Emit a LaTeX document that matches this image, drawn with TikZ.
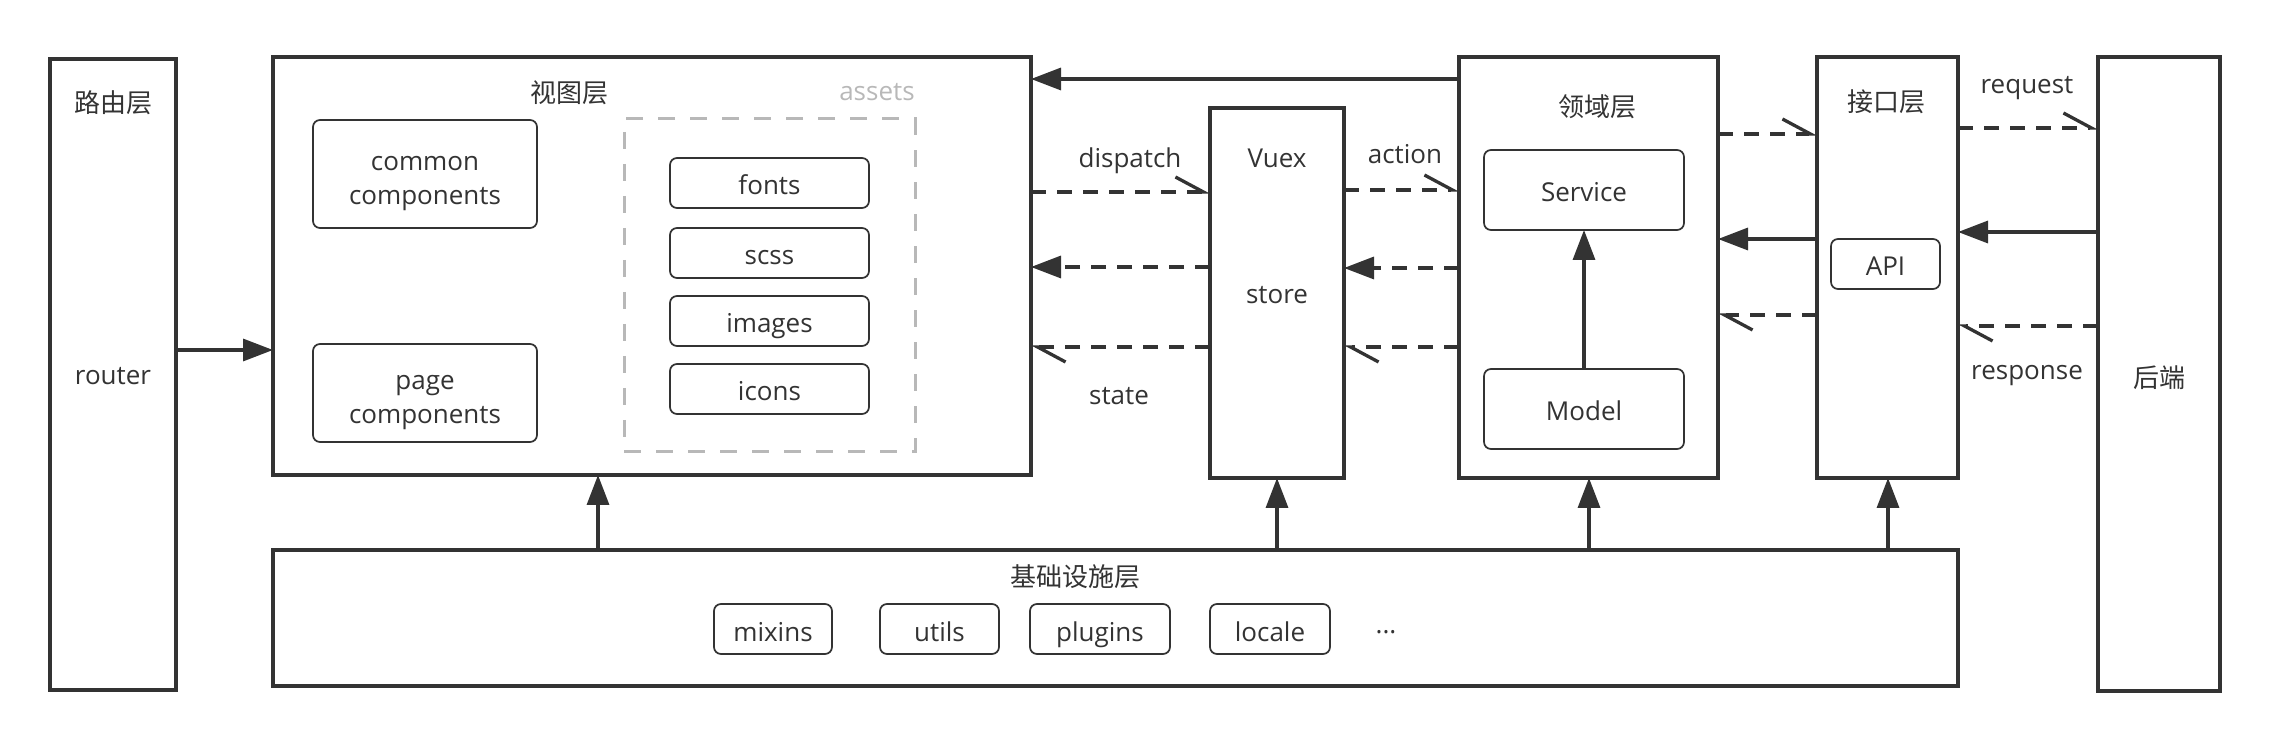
\documentclass[tikz,border=0pt]{standalone}
\usepackage{fontspec}
\setmainfont{Open Sans}
\newfontfamily\cjk{Noto Sans CJK SC}
\usetikzlibrary{arrows.meta,fit}
\definecolor{ink}{HTML}{333333}
\definecolor{assetgray}{HTML}{B8B8B8}
\begin{document}
\begin{tikzpicture}[x=0.5pt,y=-0.5pt,
  font=\fontsize{13pt}{16.5pt}\selectfont,
  every node/.append style={text=ink},
  layer/.style={draw=ink, line width=1.65pt, inner sep=0pt, outer sep=0pt},
  item/.style={draw=ink, line width=0.85pt, rounded corners=3.5pt, inner sep=0pt, outer sep=0pt, align=center},
  assetbox/.style={draw=assetgray, line width=1.5pt, dash pattern=on 8.5pt off 7.5pt, inner sep=0pt, outer sep=0pt},
  tl/.style={text height=12.5pt, text depth=0.5pt},
  lbl/.style={text height=12pt, text depth=1.3pt, inner sep=0pt},
  conn/.style={draw=ink, line width=1.65pt},
  dashline/.style={dash pattern=on 7.5pt off 5.5pt},
  filltip/.style={-{Triangle[length=15pt,width=11pt]}},
  barbtip/.style={-{Straight Barb[left,length=14pt,width=15pt]}}
]
\useasboundingbox (0,0) rectangle (2270,742);

% layers
\node[layer, fit={(50,59) (176,690)}] (router) {};
\node[layer, fit={(273,57) (1031,475)}] (view) {};
\node[layer, fit={(1210,108) (1344,478)}] (vuex) {};
\node[layer, fit={(1459,57) (1718,478)}] (domain) {};
\node[layer, fit={(1817,57) (1958,478)}] (apil) {};
\node[layer, fit={(2098,57) (2220,691)}] (backend) {};
\node[layer, fit={(273,550) (1958,686)}] (infra) {};

% assets group
\node[assetbox, fit={(624,119) (915,452)}] (assets) {};

% items
\node[item, minimum width=112pt, minimum height=54pt] (common) at (425,174) {\rule{0pt}{18.5pt}common\\[0.3pt]\strut components};
\node[item, minimum width=112pt, minimum height=49pt] (page) at (425,393) {\rule{0pt}{18.5pt}page\\[0.3pt]\strut components};
\node[item, tl, minimum width=99.5pt, minimum height=25pt] (fonts) at (769.5,183) {fonts};
\node[item, tl, minimum width=99.5pt, minimum height=25pt] (scss) at (769.5,253) {scss};
\node[item, tl, minimum width=99.5pt, minimum height=25pt] (images) at (769.5,321) {images};
\node[item, tl, minimum width=99.5pt, minimum height=25pt] (icons) at (769.5,389) {icons};
\node[item, tl, minimum width=100pt, minimum height=40pt] (service) at (1584,190) {Service};
\node[item, tl, minimum width=100pt, minimum height=40pt] (model) at (1584,409) {Model};
\node[item, tl, minimum width=54.5pt, minimum height=25pt] (api) at (1885.5,264) {API};
\node[item, tl, minimum width=59pt, minimum height=25pt] (mixins) at (773,629) {mixins};
\node[item, tl, minimum width=59.5pt, minimum height=25pt] (utils) at (939.5,629) {utils};
\node[item, tl, minimum width=70pt, minimum height=25pt] (plugins) at (1100,629) {plugins};
\node[item, tl, minimum width=60pt, minimum height=25pt] (locale) at (1270,629) {locale};

% labels
\node[lbl] (lrouter1) at (113,102) {\cjk 路由层};
\node[lbl] (lrouter2) at (113,374) {router};
\node[lbl] (lview) at (569,92) {\cjk 视图层};
\node[lbl, text=assetgray] (lassets) at (877,90) {assets};
\node[lbl] (lvuex1) at (1277,157) {Vuex};
\node[lbl] (lvuex2) at (1277,293) {store};
\node[lbl] (ldispatch) at (1130,157) {dispatch};
\node[lbl] (laction) at (1405,153) {action};
\node[lbl] (lstate) at (1119,394) {state};
\node[lbl] (ldomain) at (1597,106) {\cjk 领域层};
\node[lbl] (lapil) at (1886,101) {\cjk 接口层};
\node[lbl] (lrequest) at (2027,83) {request};
\node[lbl] (lresponse) at (2027,369) {response};
\node[lbl] (lbackend) at (2159,377) {\cjk 后端};
\node[lbl] (linfra) at (1075,576) {\cjk 基础设施层};
\node[lbl] (ldots) at (1386,623) {...};

% connectors
\draw[conn, filltip] (router.east |- 0,350) -- (view.west |- 0,350);
\draw[conn, filltip] (domain.west |- 0,79) -- (view.east |- 0,79);

\draw[conn, dashline, barbtip] (view.east |- 0,192) -- (vuex.west |- 0,192);
\draw[conn, dashline, filltip] (vuex.west |- 0,267) -- (view.east |- 0,267);
\draw[conn, dashline, barbtip] (vuex.west |- 0,347) -- (view.east |- 0,347);

\draw[conn, dashline, barbtip] (vuex.east |- 0,190) -- (domain.west |- 0,190);
\draw[conn, dashline, filltip] (domain.west |- 0,268) -- (vuex.east |- 0,268);
\draw[conn, dashline, barbtip] (domain.west |- 0,347) -- (vuex.east |- 0,347);

\draw[conn, filltip] (model.north) -- (service.south);

\draw[conn, dashline, barbtip] (domain.east |- 0,134) -- (apil.west |- 0,134);
\draw[conn, filltip] (apil.west |- 0,239) -- (domain.east |- 0,239);
\draw[conn, dashline, barbtip] (apil.west |- 0,315) -- (domain.east |- 0,315);

\draw[conn, dashline, barbtip] (apil.east |- 0,128) -- (backend.west |- 0,128);
\draw[conn, filltip] (backend.west |- 0,232) -- (apil.east |- 0,232);
\draw[conn, dashline, barbtip] (backend.west |- 0,326) -- (apil.east |- 0,326);

\draw[conn, filltip] (infra.north -| 598,0) -- (view.south -| 598,0);
\draw[conn, filltip] (infra.north -| 1277,0) -- (vuex.south -| 1277,0);
\draw[conn, filltip] (infra.north -| 1589,0) -- (domain.south -| 1589,0);
\draw[conn, filltip] (infra.north -| 1888,0) -- (apil.south -| 1888,0);
\end{tikzpicture}
\end{document}
